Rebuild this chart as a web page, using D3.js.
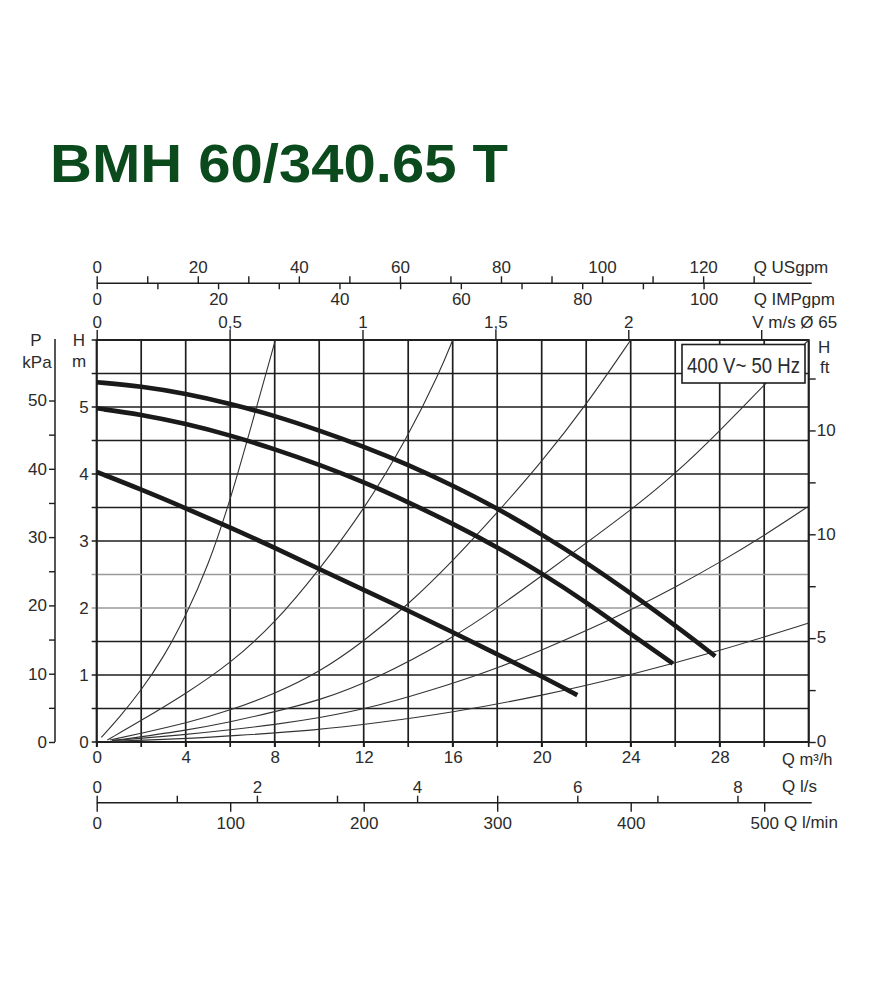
<!DOCTYPE html>
<html><head><meta charset="utf-8">
<script src="https://cdn.jsdelivr.net/npm/d3@7"></script>
<style>
body{margin:0;background:#fff}
svg text{font-family:"Liberation Sans",Arial,Helvetica,sans-serif;}
</style>
</head><body>
<svg id="c" width="885" height="1000"></svg>
<script>
// ---------- data ----------
const title = "BMH 60/340.65 T";
const supplyLabel = "400 V~ 50 Hz";

const qGrid = d3.range(0, 32.01, 2);          // Q m3/h grid / ticks
const qLabels = [0, 4, 8, 12, 16, 20, 24, 28];
const hGrid = d3.range(0, 6.01, 0.5);         // H m grid
const hLabels = [0, 1, 2, 3, 4, 5];
const hLightGrid = [2, 2.5];
const kpaTicks = d3.range(0, 50.01, 5);
const kpaLabels = [0, 10, 20, 30, 40, 50];
const ftTicks = [0, 2.5, 5, 7.5, 10, 12.5, 15, 17.5];
const ftLabelValues = [0, 5, 10, 15];
const ftLabelTexts = ["0", "5", "10", "10"];
const usgpmTicks = d3.range(0, 130.01, 10);
const usgpmLabels = [0, 20, 40, 60, 80, 100, 120];
const impTicks = d3.range(0, 100.01, 10);
const impLabels = [0, 20, 40, 60, 80, 100];
const vTicks = [0, 0.5, 1, 1.5, 2, 2.5];
const vLabelTexts = ["0", "0,5", "1", "1,5", "2", ""];
const lsTicks = d3.range(0, 8.01, 1);
const lsLabels = [0, 2, 4, 6, 8];
const lminTicks = [0, 100, 200, 300, 400, 500];

// pump curves  [Q m3/h, H m]
const curveMax = [[0,5.37],[2,5.31],[4,5.20],[6,5.05],[8,4.87],[10,4.65],[12,4.41],[14,4.14],[16,3.83],[18,3.49],[20,3.10],[22,2.68],[24,2.22],[26,1.74],[27.8,1.28]];
const curveMid = [[0,4.98],[2,4.89],[4,4.75],[6,4.58],[8,4.37],[10,4.14],[12,3.88],[14,3.58],[16,3.26],[18,2.91],[20,2.52],[22,2.09],[24,1.61],[25.9,1.17]];
const curveMin = [[0,4.03],[2,3.77],[4,3.49],[6,3.20],[8,2.90],[10,2.58],[12,2.27],[14,1.96],[16,1.64],[18,1.31],[20,0.98],[21.6,0.70]];

// system curves [Q m3/h, H m]
const sys1 = [[0.21,0.07],[1,0.36],[2,0.77],[3,1.26],[4,1.88],[5,2.62],[6,3.6],[7,4.78],[8.03,6.0]];
const sys2 = [[0.48,0.03],[2,0.32],[4,0.72],[6,1.17],[8,1.77],[10,2.57],[12,3.46],[14,4.56],[15.43,5.53],[16,6.0]];
const sys3 = [[0.6,0.03],[2,0.13],[4,0.28],[6,0.47],[8,0.72],[10,1.04],[12,1.5],[14,2.05],[16,2.7],[18,3.42],[20,4.18],[22,5.03],[24,6.0]];
const sys4 = [[0.7,0.02],[4,0.17],[6,0.3],[8,0.45],[10,0.62],[12.5,0.93],[16,1.55],[18,2.0],[20,2.48],[22,2.97],[24,3.46],[26,4.0],[28,4.64],[30,5.33],[32,6.0]];
const sys5 = [[0.7,0.02],[4,0.11],[6,0.18],[8,0.26],[10,0.36],[12.5,0.52],[16,0.87],[18,1.1],[20,1.37],[22,1.66],[24,1.97],[26,2.31],[28,2.68],[30,3.08],[32,3.52]];
const sys6 = [[0.7,0.01],[4,0.05],[6,0.09],[10,0.18],[12.5,0.28],[16,0.44],[20,0.69],[24,1.0],[28,1.36],[32,1.775]];

// unit conversions (per m3/h, per m)
const US_PER_M3H = 4.4029, IMP_PER_M3H = 3.6662, LS_PER_M3H = 1/3.6, LMIN_PER_M3H = 1000/60;
const V_PER_M3H = 1 / (Math.PI * 0.065 * 0.065 / 4 * 3600);
const KPA_PER_M = 9.81, FT_PER_M = 1/0.31;

// ---------- layout ----------
const svg = d3.select("#c");
const QMAX = 32, HMAX = 6;
const x = d3.scaleLinear([0, QMAX], [96.7, 808.7]);
const y = d3.scaleLinear([0, HMAX], [742, 340]);
const xUS = d3.scaleLinear([0, QMAX*US_PER_M3H], x.range());
const xIMP = d3.scaleLinear([0, QMAX*IMP_PER_M3H], x.range());
const xV = d3.scaleLinear([0, QMAX*V_PER_M3H], x.range());
const xLS = d3.scaleLinear([0, QMAX*LS_PER_M3H], x.range());
const xLMIN = d3.scaleLinear([0, QMAX*LMIN_PER_M3H], x.range());
const yKPA = d3.scaleLinear([0, HMAX*KPA_PER_M], y.range());
const yFT = d3.scaleLinear([0, HMAX*FT_PER_M], y.range());

const INK = "#1e1e1e", TXT = "#2b2b2b", FS = 17;

function styleAxis(g, textAnchor){
  g.attr("font-size", null).attr("font-family", null);
  g.select(".domain").remove();
  g.selectAll(".tick line").attr("stroke", INK).attr("stroke-width", 1.4);
  g.selectAll(".tick text").attr("fill", TXT).style("font-size", FS + "px");
  if (textAnchor) g.selectAll(".tick text").attr("text-anchor", textAnchor);
  return g;
}
const fmtIf = (labels, f) => d => labels.some(v => Math.abs(v - d) < 1e-9) ? (f ? f(d) : String(d)) : "";

// Title
svg.append("text").attr("x", 50).attr("y", 182)
  .attr("fill", "#0b4a1c").attr("font-weight", "bold").style("font-size", "53px")
  .attr("textLength", 458).attr("lengthAdjust", "spacingAndGlyphs")
  .text(title);

// ---------- grid ----------
const grid = svg.append("g");
grid.selectAll("line.v").data(qGrid).join("line")
  .attr("x1", d => x(d)).attr("x2", d => x(d))
  .attr("y1", y(HMAX)).attr("y2", y(0) + 5)
  .attr("stroke", INK).attr("stroke-width", 1.7);
grid.selectAll("line.h").data(hGrid).join("line")
  .attr("x1", x(0) - 5).attr("x2", x(QMAX))
  .attr("y1", d => y(d)).attr("y2", d => y(d))
  .attr("stroke", d => hLightGrid.includes(d) ? "#9a9a9a" : INK)
  .attr("stroke-width", 1.7);
grid.append("rect").attr("x", x(0)).attr("y", y(HMAX))
  .attr("width", x(QMAX) - x(0)).attr("height", y(0) - y(HMAX))
  .attr("fill", "none").attr("stroke", INK).attr("stroke-width", 1.9);

// ---------- curves ----------
const lineThin = d3.line().x(d => x(d[0])).y(d => y(d[1])).curve(d3.curveBasis);
const lineThick = d3.line().x(d => x(d[0])).y(d => y(d[1])).curve(d3.curveBasis);
svg.append("g").selectAll("path").data([sys1, sys2, sys3, sys4, sys5, sys6]).join("path")
  .attr("d", lineThin).attr("fill", "none").attr("stroke", "#333").attr("stroke-width", 1.1);
svg.append("g").selectAll("path").data([curveMax, curveMid, curveMin]).join("path")
  .attr("d", lineThick).attr("fill", "none").attr("stroke", "#1a1a1a").attr("stroke-width", 4.6);

// ---------- legend box ----------
const box = svg.append("g");
box.append("rect").attr("x", 682).attr("y", 344.5).attr("width", 123).attr("height", 38.5)
  .attr("fill", "#fff").attr("stroke", INK).attr("stroke-width", 1.6);
box.append("text").attr("x", 687).attr("y", 373).attr("fill", TXT).style("font-size", "22px")
  .attr("textLength", 113).attr("lengthAdjust", "spacingAndGlyphs").text(supplyLabel);

// ---------- top axes ----------
const yTopLine = 283.3;
svg.append("line").attr("x1", x(0)).attr("x2", x(QMAX) + 3).attr("y1", yTopLine).attr("y2", yTopLine)
  .attr("stroke", INK).attr("stroke-width", 1.5);
svg.append("g").attr("transform", `translate(0,${yTopLine})`)
  .call(d3.axisTop(xUS).tickValues(usgpmTicks).tickSize(7).tickPadding(3).tickSizeOuter(0).tickFormat(fmtIf(usgpmLabels)))
  .call(g => styleAxis(g));
svg.append("g").attr("transform", `translate(0,${yTopLine})`)
  .call(d3.axisBottom(xIMP).tickValues(impTicks).tickSize(6).tickPadding(4).tickSizeOuter(0).tickFormat(fmtIf(impLabels)))
  .call(g => styleAxis(g));
svg.append("g").attr("transform", `translate(0,${y(HMAX)})`)
  .call(d3.axisTop(xV).tickValues(vTicks).tickSize(10).tickPadding(2).tickSizeOuter(0).tickFormat((d, i) => vLabelTexts[i]))
  .call(g => styleAxis(g));

svg.append("text").attr("x", xUS(130)).attr("y", 273).attr("fill", TXT).style("font-size", FS+"px").text("Q USgpm");
svg.append("text").attr("x", xUS(130)).attr("y", 305).attr("fill", TXT).style("font-size", FS+"px").text("Q IMPgpm");
svg.append("text").attr("x", xV(2.5) - 9).attr("y", 328).attr("fill", TXT).style("font-size", FS+"px").text("V m/s Ø 65");

// ---------- left axes ----------
svg.append("g").attr("transform", `translate(${x(0)},0)`)
  .call(d3.axisLeft(y).tickValues(hLabels).tickSize(0).tickPadding(8).tickFormat(d => String(d)))
  .call(g => styleAxis(g));
const xP = 55;
svg.append("line").attr("x1", xP).attr("x2", xP).attr("y1", yKPA(0)).attr("y2", y(HMAX) - 1)
  .attr("stroke", INK).attr("stroke-width", 1.5);
svg.append("g").attr("transform", `translate(${xP},0)`)
  .call(d3.axisLeft(yKPA).tickValues(kpaTicks).tickSize(6).tickPadding(2).tickSizeOuter(0).tickFormat(fmtIf(kpaLabels)))
  .call(g => styleAxis(g));
svg.append("text").attr("x", 36).attr("y", 346).attr("text-anchor", "middle").attr("fill", TXT).style("font-size", FS+"px").text("P");
svg.append("text").attr("x", 37).attr("y", 368).attr("text-anchor", "middle").attr("fill", TXT).style("font-size", FS+"px").text("kPa");
svg.append("text").attr("x", 79).attr("y", 346).attr("text-anchor", "middle").attr("fill", TXT).style("font-size", FS+"px").text("H");
svg.append("text").attr("x", 79).attr("y", 367).attr("text-anchor", "middle").attr("fill", TXT).style("font-size", FS+"px").text("m");

// ---------- right axis (ft) ----------
svg.append("g").attr("transform", `translate(${x(QMAX)},0)`)
  .call(d3.axisRight(yFT).tickValues(ftTicks).tickSize(7).tickPadding(1).tickSizeOuter(0)
    .tickFormat(d => { const i = ftLabelValues.indexOf(d); return i >= 0 ? ftLabelTexts[i] : ""; }))
  .call(g => styleAxis(g))
  .call(g => g.selectAll(".tick text").attr("dy", "0.28em"));
svg.append("text").attr("x", 818).attr("y", 353).attr("fill", TXT).style("font-size", FS+"px").text("H");
svg.append("text").attr("x", 820).attr("y", 373).attr("fill", TXT).style("font-size", FS+"px").text("ft");

// ---------- bottom axes ----------
svg.append("g").attr("transform", `translate(0,${y(0)})`)
  .call(d3.axisBottom(x).tickValues(qLabels).tickSize(5).tickPadding(4).tickSizeOuter(0).tickFormat(d => String(d)))
  .call(g => styleAxis(g));
svg.append("text").attr("x", 782).attr("y", 765).attr("fill", TXT).style("font-size", "16.5px").text("Q m³/h");

const yBotLine = 802.7;
svg.append("line").attr("x1", x(0)).attr("x2", x(QMAX) + 3).attr("y1", yBotLine).attr("y2", yBotLine)
  .attr("stroke", INK).attr("stroke-width", 1.5);
svg.append("g").attr("transform", `translate(0,${yBotLine})`)
  .call(d3.axisTop(xLS).tickValues(lsTicks).tickSize(7).tickPadding(3).tickSizeOuter(0).tickFormat(fmtIf(lsLabels)))
  .call(g => styleAxis(g));
svg.append("g").attr("transform", `translate(0,${yBotLine})`)
  .call(d3.axisBottom(xLMIN).tickValues(lminTicks).tickSize(9).tickPadding(5).tickSizeOuter(0).tickFormat(d => String(d)))
  .call(g => styleAxis(g));
svg.append("text").attr("x", 782).attr("y", 792).attr("fill", TXT).style("font-size", FS+"px").text("Q l/s");
svg.append("text").attr("x", 784).attr("y", 828).attr("fill", TXT).style("font-size", FS+"px").text("Q l/min");
</script>
</body></html>
